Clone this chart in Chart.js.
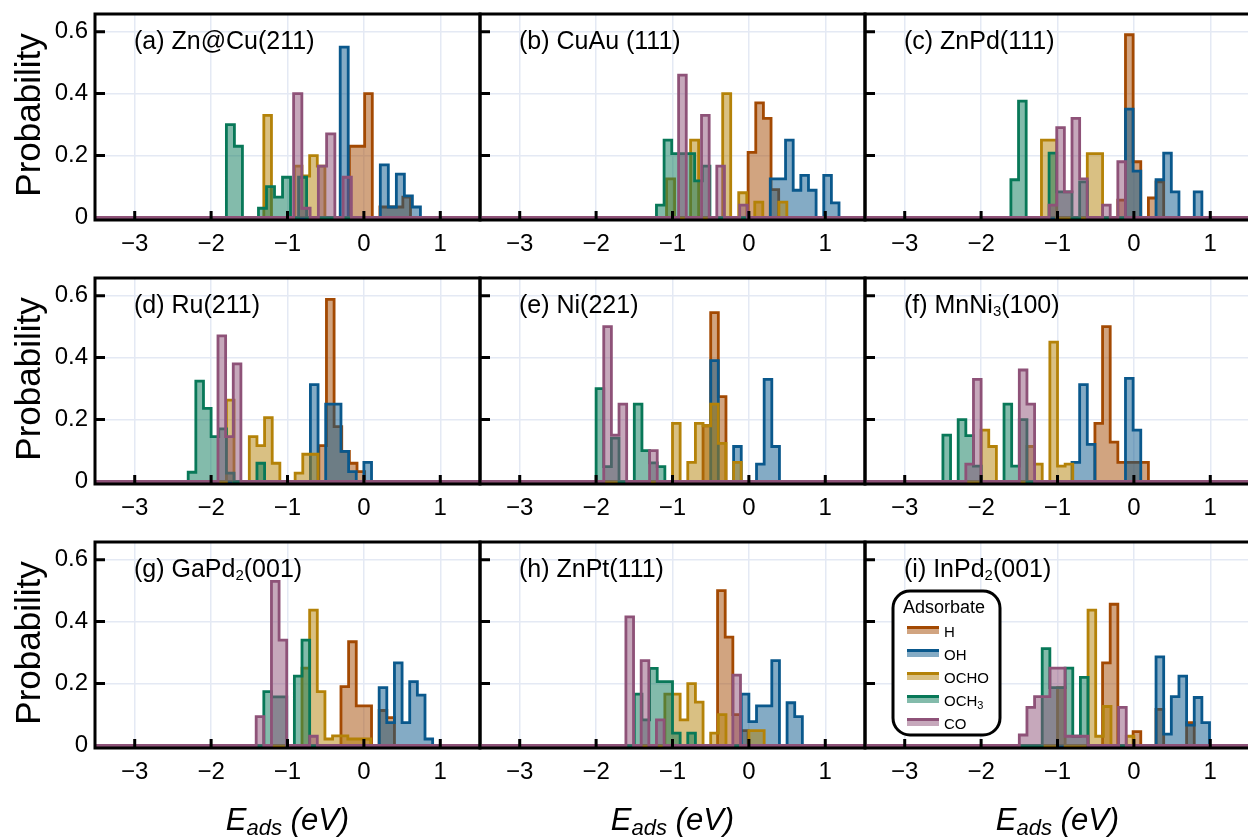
<!DOCTYPE html>
<html><head><meta charset="utf-8">
<script src="https://cdn.jsdelivr.net/npm/chart.js@4.4.1/dist/chart.umd.min.js"></script>
<style>
html,body{margin:0;padding:0;background:#fff;}
#wrap{position:relative;width:1248px;height:840px;overflow:hidden;background:#fff;}
canvas{position:absolute;}
</style></head><body><div id="wrap"></div>
<script>
// ---------------- DATA ----------------
const adsorbates = ['H', 'OH', 'OCHO', 'OCH_{3}', 'CO'];
const panelLabels = ['(a) Zn@Cu(211)', '(b) CuAu (111)', '(c) ZnPd(111)',
                     '(d) Ru(211)', '(e) Ni(221)', '(f) MnNi_{3}(100)',
                     '(g) GaPd_{2}(001)', '(h) ZnPt(111)', '(i) InPd_{2}(001)'];
const xTicks = [-3, -2, -1, 0, 1];
const yTicks = [0, 0.2, 0.4, 0.6];
const yTitle = 'Probability';
const xTitle = 'E_{ads} (eV)';
const legendTitle = 'Adsorbate';

// per panel: first bin edge (eV), bin width (eV), probabilities per bin; order [H, OH, OCHO, OCH3, CO]
const startA = [-0.19, -0.31, -1.31, -1.80, -0.92];
const widthA = [0.1, 0.105, 0.1, 0.105, 0.108];
const probA = [
  [0.23, 0.23, 0.40, 0, 0.034, 0.034, 0.034, 0.066],
  [0.55, 0, 0, 0, 0, 0.17, 0.034, 0.14, 0.07, 0.034],
  [0.33, 0, 0, 0, 0.166, 0.134, 0.2, 0.166],
  [0.30, 0.23, 0, 0, 0.03, 0.10, 0.066, 0.13, 0, 0.13],
  [0.40, 0.03, 0, 0.166, 0.27, 0, 0.13]];

const startB = [-0.01, 0.28, -1.078, -1.21, -0.92];
const widthB = [0.1, 0.1, 0.105, 0.1, 0.1];
const probB = [
  [0.21, 0.37, 0.32, 0.09],
  [0.125, 0.125, 0.25, 0.088, 0.136, 0.088, 0, 0.136, 0.047],
  [0.125, 0, 0, 0.25, 0, 0, 0, 0.40, 0, 0.08, 0, 0.05, 0, 0, 0.05],
  [0.04, 0.25, 0.206, 0.206, 0.206, 0.118, 0.166],
  [0.46, 0, 0, 0.33, 0, 0.166, 0, 0, 0.04]];

const startC = [-0.21, -0.11, -1.21, -1.61, -1.11];
const widthC = [0.1, 0.1, 0.1, 0.1, 0.1];
const probC = [
  [0.056, 0.59, 0.18, 0, 0.063, 0.115],
  [0.35, 0.15, 0, 0, 0.122, 0.208, 0.083, 0, 0, 0.083],
  [0.25, 0.25, 0, 0, 0, 0, 0.206, 0.206],
  [0.122, 0.376, 0, 0, 0, 0.208, 0.083, 0.083, 0, 0.115],
  [0.04, 0.29, 0.083, 0.32, 0.125, 0, 0, 0.04, 0, 0.18]];

const startD = [-0.59, -0.70, -1.80, -2.30, -1.91];
const widthD = [0.1, 0.1, 0.1, 0.1, 0.1];
const probD = [
  [0.116, 0.588, 0.177, 0.097, 0.059, 0.032],
  [0.313, 0, 0.25, 0.25, 0.097, 0.032, 0, 0.062],
  [0.263, 0, 0, 0.145, 0.116, 0.206, 0.059, 0, 0, 0.027, 0.088, 0.088],
  [0.03, 0.324, 0.236, 0.145, 0.17, 0.027, 0, 0, 0, 0.059],
  [0.47, 0.145, 0.38]];

const startE = [-0.6, -0.5, -1.0, -2.0, -1.9];
const widthE = [0.1, 0.1, 0.1, 0.1, 0.1];
const probE = [
  [0.18, 0.545, 0.274],
  [0.39, 0, 0, 0.113, 0, 0, 0.056, 0.33, 0.113],
  [0.188, 0, 0.062, 0.188, 0.18, 0.25, 0.123, 0, 0.062],
  [0.30, 0.048, 0.14, 0, 0, 0.25, 0.10, 0.06, 0.048],
  [0.50, 0.15, 0.25, 0, 0, 0, 0.10]];

const startF = [-0.51, -0.81, -2.0, -2.5, -2.2];
const widthF = [0.1, 0.1, 0.1, 0.1, 0.1];
const probF = [
  [0.188, 0.50, 0.127, 0.062, 0.062, 0.062, 0.062],
  [0.062, 0.313, 0.12, 0, 0, 0, 0, 0.333, 0.166],
  [0.166, 0.113, 0, 0, 0, 0, 0.113, 0.056, 0, 0.45, 0.05, 0.056],
  [0.15, 0, 0.20, 0.148, 0.05, 0, 0, 0, 0.25, 0.05, 0.20],
  [0.056, 0.33, 0, 0, 0, 0, 0, 0.36, 0.25]];

const startG = [-0.30, 0.2, -0.81, -1.31, -1.41];
const widthG = [0.1, 0.1, 0.1, 0.1, 0.1];
const probG = [
  [0.19, 0.335, 0.128, 0.128, 0, 0.113, 0.09],
  [0.187, 0.074, 0.267, 0.074, 0.206, 0.163, 0.021],
  [0.25, 0.437, 0.174, 0.021, 0.031, 0.031, 0.021, 0.021, 0.021],
  [0.174, 0.157, 0.157, 0, 0.224, 0.34],
  [0.093, 0, 0.53, 0.34, 0, 0, 0, 0.03]];

const startH = [-0.41, -0.1, -1.1, -1.5, -1.61];
const widthH = [0.1, 0.1, 0.1, 0.1, 0.1];
const probH = [
  [0.50, 0.35, 0.10, 0.048],
  [0.166, 0.077, 0.128, 0.128, 0.274, 0, 0.138, 0.093],
  [0.166, 0.166, 0.083, 0.2, 0.14, 0, 0.04, 0.1, 0, 0, 0, 0.048, 0.048],
  [0.166, 0.083, 0.249, 0.206, 0.206, 0.04, 0, 0.04],
  [0.415, 0, 0.274, 0, 0.083, 0, 0, 0, 0, 0, 0, 0, 0, 0, 0.227]];

const startI = [-0.41, 0.29, -1.0, -1.2, -1.5];
const widthI = [0.1, 0.1, 0.1, 0.1, 0.1];
const probI = [
  [0.267, 0.456, 0, 0, 0.045, 0, 0, 0.117, 0, 0, 0, 0.074],
  [0.286, 0.037, 0.158, 0.224, 0.066, 0.155, 0.074],
  [0.187, 0, 0, 0, 0.437, 0.03, 0.126, 0, 0, 0.03],
  [0.313, 0.187, 0.187, 0.25, 0.03, 0.22],
  [0.034, 0.123, 0.158, 0.158, 0.25, 0.25, 0.03, 0.03, 0.03, 0, 0, 0, 0, 0.123]];

const starts = [startA, startB, startC, startD, startE, startF, startG, startH, startI];
const widths = [widthA, widthB, widthC, widthD, widthE, widthF, widthG, widthH, widthI];
const probs  = [probA, probB, probC, probD, probE, probF, probG, probH, probI];

// ---------------- STYLE / LAYOUT ----------------
const FONT = "'Liberation Sans', Arial, Helvetica, sans-serif";
const strokeRGB = [[163, 73, 2], [10, 88, 140], [180, 130, 8], [8, 120, 88], [142, 82, 120]];
const strokeColors = strokeRGB.map(c => `rgb(${c[0]},${c[1]},${c[2]})`);
const fillColors = strokeRGB.map(c => `rgba(${c[0]},${c[1]},${c[2]},0.5)`);
const GRID = '#e4e9f4';
const X_MIN = -3.52, X_MAX = 1.52, Y_MIN = -0.008, Y_MAX = 0.657;
const colLeft = [95, 480, 865], rowTop = [14, 278, 542], PW = 385, PH = 206;

function histPoints(start, width, pr) {
  const pts = [{x: X_MIN, y: 0}, {x: start, y: 0}];
  pr.forEach((p, i) => {
    const e0 = start + i * width, e1 = e0 + width;
    pts.push({x: e0, y: p}, {x: e1, y: p});
  });
  const end = start + pr.length * width;
  pts.push({x: end, y: 0}, {x: X_MAX, y: 0});
  return pts;
}

function richParts(text) {
  const parts = []; const re = /_\{([^}]*)\}/g; let last = 0, m;
  while ((m = re.exec(text))) {
    if (m.index > last) parts.push([text.slice(last, m.index), false]);
    parts.push([m[1], true]); last = re.lastIndex;
  }
  if (last < text.length) parts.push([text.slice(last), false]);
  return parts;
}
function drawRich(ctx, text, x, y, size, subSize, subOff, style, align) {
  const parts = richParts(text);
  let w = 0;
  parts.forEach(([t, s]) => { ctx.font = `${style} ${s ? subSize : size}px ${FONT}`; w += ctx.measureText(t).width; });
  let cx = align === 'center' ? x - w / 2 : x;
  ctx.textAlign = 'left'; ctx.textBaseline = 'alphabetic';
  parts.forEach(([t, s]) => {
    ctx.font = `${style} ${s ? subSize : size}px ${FONT}`;
    ctx.fillText(t, cx, s ? y + subOff : y);
    cx += ctx.measureText(t).width;
  });
}
function roundRect(ctx, x, y, w, h, r) {
  ctx.beginPath();
  ctx.moveTo(x + r, y); ctx.lineTo(x + w - r, y); ctx.arcTo(x + w, y, x + w, y + r, r);
  ctx.lineTo(x + w, y + h - r); ctx.arcTo(x + w, y + h, x + w - r, y + h, r);
  ctx.lineTo(x + r, y + h); ctx.arcTo(x, y + h, x, y + h - r, r);
  ctx.lineTo(x, y + r); ctx.arcTo(x, y, x + r, y, r); ctx.closePath();
}

const panelDeco = {
  id: 'panelDeco',
  afterDraw(chart, args, o) {
    const {ctx, chartArea: a, scales: {x, y}} = chart;
    ctx.save();
    ctx.strokeStyle = '#000'; ctx.lineWidth = 3; ctx.lineCap = 'butt';
    ctx.beginPath();
    xTicks.forEach(v => { const px = x.getPixelForValue(v); ctx.moveTo(px, a.bottom); ctx.lineTo(px, a.bottom - 9); });
    yTicks.forEach(v => { if (v === 0) return; const py = y.getPixelForValue(v); ctx.moveTo(a.left, py); ctx.lineTo(a.left + 10, py); });
    ctx.stroke();
    ctx.strokeRect(a.left, a.top, a.right - a.left, a.bottom - a.top);
    ctx.fillStyle = '#000';
    drawRich(ctx, o.label, a.left + 39, a.top + 35, 25, 15, 3, 'normal', 'left');
    if (o.col === 0) {
      ctx.save();
      ctx.translate(a.left - 55, (a.top + a.bottom) / 2 - 2);
      ctx.rotate(-Math.PI / 2);
      ctx.font = `35px ${FONT}`; ctx.textAlign = 'center'; ctx.textBaseline = 'alphabetic';
      ctx.fillText(yTitle, 0, 0);
      ctx.restore();
    }
    if (o.row === 2) {
      drawRich(ctx, xTitle, (a.left + a.right) / 2, a.bottom + 82, 31, 22, 5, 'italic', 'center');
    }
    if (o.legend) {
      const bx = a.left + 28, by = a.top + 49;
      roundRect(ctx, bx, by, 107, 144, 17);
      ctx.fillStyle = '#fff'; ctx.fill();
      ctx.lineWidth = 3; ctx.strokeStyle = '#000'; ctx.stroke();
      ctx.fillStyle = '#000';
      ctx.font = `18px ${FONT}`; ctx.textAlign = 'left'; ctx.textBaseline = 'alphabetic';
      ctx.fillText(legendTitle, a.left + 38, a.top + 71);
      adsorbates.forEach((name, k) => {
        const cy = a.top + 89 + 23 * k;
        ctx.fillStyle = fillColors[k];
        ctx.fillRect(a.left + 42, cy - 2, 32, 5);
        ctx.fillStyle = strokeColors[k];
        ctx.fillRect(a.left + 42, cy - 5, 32, 3);
        ctx.fillStyle = '#000';
        drawRich(ctx, name, a.left + 79, cy + 5.5, 15, 11, 3, 'normal', 'left');
      });
    }
    ctx.restore();
  }
};

const fmtX = v => v < 0 ? '\u2212' + Math.abs(v) : String(v);
const fmtY = v => v === 0 ? '0' : v.toFixed(1);

const wrap = document.getElementById('wrap');
for (let r = 0; r < 3; r++) for (let c = 0; c < 3; c++) {
  const p = r * 3 + c;
  const padL = c === 0 ? colLeft[0] : 4;
  const padT = 4, padR = 4;
  const padB = r === 2 ? 840 - (rowTop[2] + PH) : 48;
  const cw = PW + padL + padR, ch = PH + padT + padB;
  const cv = document.createElement('canvas');
  cv.width = cw; cv.height = ch;
  cv.style.left = (colLeft[c] - padL) + 'px'; cv.style.top = (rowTop[r] - padT) + 'px';
  cv.style.width = cw + 'px'; cv.style.height = ch + 'px';
  wrap.appendChild(cv);
  const datasets = adsorbates.map((name, k) => ({
    label: name,
    data: histPoints(starts[p][k], widths[p][k], probs[p][k]),
    borderColor: strokeColors[k], backgroundColor: fillColors[k],
    borderWidth: 2.8, fill: 'origin', pointRadius: 0, tension: 0,
    borderJoinStyle: 'miter', order: adsorbates.length - 1 - k
  }));
  new Chart(cv, {
    type: 'line',
    data: {datasets},
    options: {
      responsive: false, animation: false, devicePixelRatio: 1, events: [],
      layout: {padding: {top: padT, right: padR, left: 0, bottom: 0}},
      plugins: {legend: {display: false}, tooltip: {enabled: false},
        panelDeco: {label: panelLabels[p], col: c, row: r, legend: p === 8}},
      scales: {
        x: {type: 'linear', min: X_MIN, max: X_MAX,
          afterBuildTicks: s => { s.ticks = xTicks.map(v => ({value: v})); },
          afterFit: s => { s.height = padB; s.paddingLeft = 0; s.paddingRight = 0; },
          grid: {color: GRID, lineWidth: 1.5, drawTicks: false}, border: {display: false},
          ticks: {font: {family: FONT, size: 24}, color: '#000', padding: 10, maxRotation: 0, autoSkip: false, callback: fmtX}},
        y: {type: 'linear', min: Y_MIN, max: Y_MAX,
          afterBuildTicks: s => { s.ticks = yTicks.map(v => ({value: v})); },
          afterFit: s => { s.width = padL; s.paddingTop = 0; s.paddingBottom = 0; },
          grid: {color: GRID, lineWidth: 1.5, drawTicks: false}, border: {display: false},
          ticks: {display: c === 0, font: {family: FONT, size: 24}, color: '#000', padding: 7, autoSkip: false, callback: fmtY}}
      }
    },
    plugins: [panelDeco]
  });
}
</script></body></html>
